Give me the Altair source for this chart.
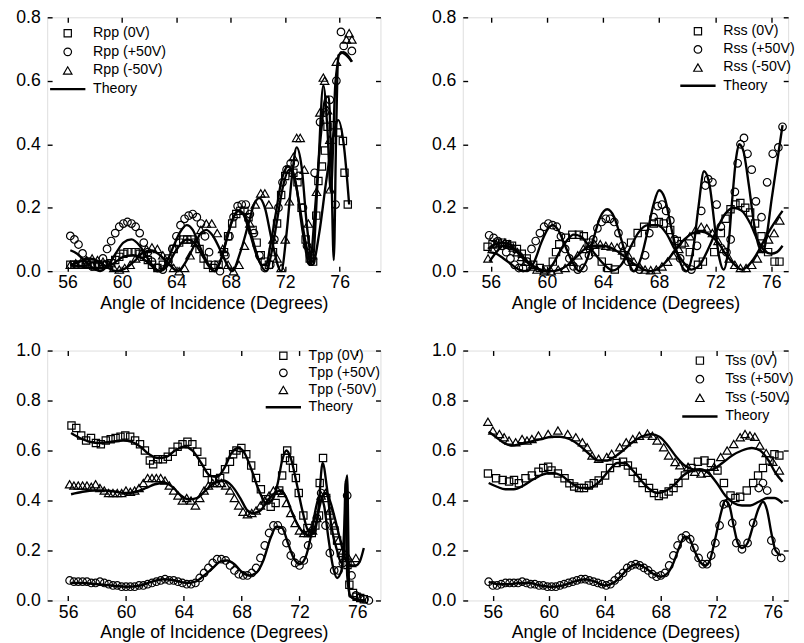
import altair as alt
import pandas as pd

FONT = "Liberation Sans"
XTICKS = [56, 60, 64, 68, 72, 76]

# ---------------- Rpp (top-left) ----------------
rpp_0v = [(56.2,0.02),(56.5,0.02),(56.8,0.02),(57.1,0.02),(57.4,0.02),(57.7,0.02),(58.0,0.015),(58.3,0.015),(58.6,0.02),(58.9,0.02),(59.2,0.025),(59.5,0.035),(59.8,0.045),(60.1,0.055),(60.4,0.06),(60.7,0.06),(61.0,0.06),(61.3,0.055),(61.6,0.045),(61.9,0.035),(62.2,0.02),(62.6,0.01),(63.0,0.02),(63.4,0.04),(63.8,0.07),(64.2,0.09),(64.5,0.10),(64.8,0.10),(65.1,0.10),(65.4,0.09),(65.7,0.07),(66.0,0.04),(66.3,0.02),(66.7,0.01),(67.1,0.02),(67.5,0.06),(67.8,0.11),(68.1,0.15),(68.4,0.18),(68.7,0.19),(69.0,0.19),(69.3,0.17),(69.6,0.13),(69.9,0.09),(70.2,0.05),(70.5,0.03),(70.8,0.02),(71.1,0.06),(71.4,0.15),(71.7,0.24),(72.0,0.30),(72.3,0.32),(72.6,0.31),(72.9,0.28),(73.2,0.20),(73.5,0.10),(73.8,0.04),(74.05,0.03),(74.28,0.175),(74.44,0.284),(74.7,0.33),(74.92,0.38),(75.11,0.455),(75.5,0.46),(75.88,0.437),(76.24,0.41),(76.36,0.31),(76.6,0.21)]
rpp_p50 = [(56.2,0.111),(56.5,0.10),(56.8,0.084),(57.1,0.056),(57.4,0.03),(57.8,0.015),(58.2,0.02),(58.6,0.04),(58.9,0.07),(59.2,0.095),(59.5,0.12),(59.8,0.14),(60.1,0.15),(60.4,0.155),(60.7,0.15),(61.0,0.14),(61.3,0.12),(61.6,0.09),(61.9,0.06),(62.2,0.03),(62.6,0.01),(63.0,0.005),(63.4,0.03),(63.7,0.07),(64.0,0.11),(64.3,0.145),(64.6,0.165),(64.9,0.175),(65.2,0.18),(65.5,0.17),(65.8,0.15),(66.1,0.11),(66.4,0.06),(66.8,0.02),(67.2,0.0),(67.6,0.05),(67.9,0.11),(68.2,0.17),(68.5,0.205),(68.8,0.21),(69.1,0.21),(69.4,0.18),(69.7,0.12),(70.1,0.05),(70.5,0.01),(70.9,0.02),(71.2,0.10),(71.5,0.20),(71.8,0.28),(72.1,0.32),(72.4,0.34),(72.7,0.34),(73.0,0.30),(73.3,0.20),(73.6,0.08),(73.9,0.03),(74.16,0.31),(74.56,0.47),(74.9,0.50),(75.28,0.54),(75.7,0.21),(75.76,0.60),(76.1,0.754),(76.3,0.71),(76.9,0.694)]
rpp_m50 = [(56.2,0.02),(56.6,0.025),(57.0,0.03),(57.4,0.035),(57.8,0.04),(58.2,0.035),(58.6,0.03),(59.0,0.02),(59.4,0.01),(59.8,0.005),(60.2,0.01),(60.6,0.02),(61.0,0.04),(61.4,0.055),(61.8,0.07),(62.2,0.075),(62.6,0.07),(63.0,0.05),(63.4,0.03),(63.8,0.01),(64.2,0.0),(64.6,0.01),(65.0,0.05),(65.4,0.09),(65.8,0.13),(66.2,0.15),(66.6,0.15),(67.0,0.12),(67.4,0.07),(67.8,0.02),(68.2,0.0),(68.6,0.02),(69.0,0.08),(69.4,0.15),(69.8,0.21),(70.2,0.245),(70.5,0.245),(70.8,0.21),(71.1,0.10),(71.4,0.04),(71.7,0.01),(72.0,0.10),(72.3,0.22),(72.6,0.36),(72.84,0.42),(73.1,0.42),(73.4,0.32),(73.7,0.15),(74.0,0.05),(74.3,0.25),(74.55,0.50),(74.8,0.61),(74.9,0.60),(75.11,0.507),(75.28,0.414),(75.3,0.258),(75.76,0.66),(76.5,0.73),(76.7,0.75),(76.9,0.73)]
rpp_th_0v = [(56.2,0.02),(57.0,0.015),(57.8,0.01),(58.6,0.01),(59.4,0.025),(60.1,0.045),(60.8,0.05),(61.5,0.04),(62.1,0.02),(62.7,0.0),(63.3,0.015),(63.9,0.06),(64.4,0.09),(64.8,0.10),(65.3,0.09),(65.9,0.05),(66.4,0.015),(66.8,0.0),(67.3,0.04),(67.8,0.12),(68.2,0.17),(68.5,0.19),(68.9,0.18),(69.4,0.12),(69.9,0.05),(70.3,0.02),(70.6,0.02),(70.9,0.08),(71.3,0.18),(71.7,0.28),(72.2,0.33),(72.6,0.31),(73.0,0.22),(73.5,0.09),(74.0,0.02),(74.5,0.12),(75.0,0.28),(75.5,0.42),(75.9,0.476),(76.3,0.40),(76.7,0.21)]
rpp_th_p50 = [(56.2,0.066),(56.7,0.055),(57.2,0.035),(57.8,0.012),(58.4,0.0),(59.0,0.02),(59.6,0.06),(60.1,0.09),(60.7,0.10),(61.3,0.08),(61.9,0.04),(62.4,0.01),(62.8,0.0),(63.3,0.03),(63.8,0.08),(64.3,0.125),(64.75,0.145),(65.2,0.13),(65.7,0.08),(66.3,0.025),(66.8,0.0),(67.3,0.04),(67.7,0.10),(68.1,0.16),(68.6,0.19),(69.1,0.17),(69.6,0.10),(70.1,0.03),(70.6,0.0),(71.0,0.06),(71.4,0.16),(71.8,0.26),(72.3,0.32),(72.8,0.27),(73.3,0.12),(73.8,0.02),(74.2,0.20),(74.6,0.42),(75.0,0.55),(75.2,0.55),(75.4,0.30),(75.57,0.035),(75.75,0.45),(75.9,0.68),(76.3,0.69),(76.9,0.66)]
rpp_th_m50 = [(56.2,0.02),(56.9,0.03),(57.6,0.04),(58.3,0.03),(59.0,0.01),(59.6,0.0),(60.3,0.01),(61.0,0.035),(61.6,0.06),(62.2,0.065),(62.8,0.05),(63.5,0.02),(64.1,0.0),(64.7,0.03),(65.3,0.08),(65.8,0.12),(66.2,0.13),(66.7,0.11),(67.3,0.06),(68.1,0.0),(68.7,0.06),(69.3,0.15),(69.7,0.21),(70.1,0.23),(70.5,0.20),(71.0,0.10),(71.7,0.0),(72.1,0.12),(72.5,0.30),(72.84,0.39),(73.2,0.33),(73.6,0.14),(74.0,0.03),(74.4,0.30),(74.8,0.585),(75.1,0.45),(75.35,0.25),(75.7,0.60),(76.1,0.69),(76.5,0.68),(76.9,0.66)]

# ---------------- Rss (top-right) ----------------
rss_0v = [(55.77,0.077),(56.12,0.085),(56.47,0.09),(56.81,0.09),(57.16,0.085),(57.51,0.08),(57.86,0.07),(58.21,0.055),(58.56,0.04),(59.02,0.02),(59.49,0.01),(59.95,0.005),(60.42,0.03),(60.65,0.06),(60.88,0.085),(61.35,0.105),(61.81,0.115),(62.28,0.115),(62.63,0.11),(62.98,0.09),(63.44,0.06),(63.91,0.03),(64.37,0.01),(64.84,0.005),(65.53,0.05),(66.0,0.09),(66.47,0.12),(66.93,0.14),(67.63,0.15),(67.98,0.155),(68.33,0.15),(68.79,0.13),(69.26,0.095),(69.6,0.085),(70.19,0.06),(70.77,0.02),(71.12,0.03),(71.93,0.06),(72.4,0.12),(72.74,0.165),(73.09,0.195),(73.44,0.21),(73.79,0.215),(74.14,0.20),(74.49,0.185),(74.84,0.15),(75.3,0.11),(75.77,0.06),(76.23,0.03),(76.58,0.03)]
rss_p50 = [(55.88,0.113),(56.2,0.105),(56.5,0.095),(56.8,0.08),(57.1,0.06),(57.4,0.04),(57.7,0.02),(58.0,0.01),(58.3,0.01),(58.6,0.03),(58.9,0.07),(59.2,0.095),(59.5,0.12),(59.8,0.14),(60.1,0.15),(60.4,0.145),(60.7,0.14),(61.0,0.11),(61.3,0.07),(61.6,0.04),(61.9,0.015),(62.2,0.005),(62.6,0.01),(63.0,0.05),(63.3,0.10),(63.6,0.135),(63.9,0.155),(64.2,0.165),(64.5,0.165),(64.8,0.155),(65.1,0.12),(65.4,0.08),(65.8,0.03),(66.2,0.01),(66.6,0.005),(67.0,0.05),(67.3,0.12),(67.6,0.17),(67.9,0.205),(68.2,0.21),(68.5,0.19),(68.8,0.16),(69.1,0.10),(69.5,0.04),(69.9,0.01),(70.3,0.005),(70.7,0.08),(71.0,0.19),(71.3,0.27),(71.5,0.29),(71.8,0.28),(72.1,0.21),(72.4,0.14),(72.8,0.06),(73.1,0.10),(73.4,0.25),(73.6,0.34),(73.8,0.40),(74.05,0.42),(74.3,0.37),(74.6,0.32),(74.9,0.22),(75.3,0.17),(75.7,0.28),(76.1,0.37),(76.5,0.39),(76.8,0.455)]
rss_m50 = [(55.8,0.04),(56.1,0.07),(56.4,0.085),(56.7,0.09),(57.0,0.09),(57.3,0.085),(57.6,0.075),(57.9,0.06),(58.2,0.045),(58.5,0.03),(58.9,0.015),(59.3,0.005),(59.8,0.0),(60.3,0.0),(60.8,0.005),(61.3,0.01),(61.8,0.03),(62.2,0.05),(62.6,0.07),(63.0,0.08),(63.4,0.085),(63.8,0.085),(64.2,0.08),(64.6,0.078),(65.0,0.075),(65.4,0.065),(65.8,0.05),(66.2,0.03),(66.6,0.015),(67.0,0.005),(67.4,0.003),(67.8,0.005),(68.2,0.015),(68.6,0.03),(69.0,0.05),(69.4,0.07),(69.8,0.09),(70.2,0.11),(70.6,0.13),(71.0,0.14),(71.4,0.135),(71.8,0.12),(72.2,0.095),(72.6,0.07),(73.0,0.04),(73.4,0.02),(73.8,0.01),(74.2,0.01),(74.6,0.02),(75.0,0.04),(75.4,0.07),(75.8,0.10),(76.2,0.12),(76.6,0.16)]
rss_th_0v = [(55.8,0.07),(56.3,0.085),(56.8,0.09),(57.3,0.085),(57.8,0.065),(58.3,0.04),(58.8,0.02),(59.4,0.005),(59.9,0.0),(60.4,0.02),(60.9,0.06),(61.4,0.095),(61.9,0.115),(62.4,0.11),(62.9,0.085),(63.5,0.05),(64.1,0.02),(64.7,0.002),(65.3,0.02),(65.9,0.07),(66.5,0.12),(67.2,0.145),(67.9,0.145),(68.5,0.12),(69.1,0.07),(69.7,0.03),(70.3,0.005),(70.9,0.02),(71.5,0.07),(72.1,0.13),(72.7,0.18),(73.3,0.20),(73.9,0.19),(74.5,0.15),(75.0,0.10),(75.5,0.065),(76.0,0.055),(76.4,0.06),(76.8,0.08)]
rss_th_p50 = [(55.9,0.06),(56.4,0.055),(56.9,0.04),(57.5,0.02),(58.0,0.005),(58.6,0.0),(59.1,0.03),(59.6,0.09),(60.1,0.135),(60.4,0.145),(60.8,0.13),(61.3,0.08),(61.8,0.03),(62.3,0.0),(62.8,0.03),(63.3,0.10),(63.8,0.17),(64.3,0.195),(64.8,0.17),(65.3,0.10),(65.8,0.03),(66.2,0.0),(66.7,0.04),(67.2,0.13),(67.6,0.21),(68.0,0.255),(68.4,0.23),(68.9,0.13),(69.4,0.04),(69.95,0.0),(70.4,0.06),(70.8,0.20),(71.2,0.315),(71.6,0.27),(72.0,0.13),(72.3,0.04),(72.6,0.005),(72.9,0.06),(73.2,0.22),(73.5,0.36),(73.7,0.40),(74.0,0.38),(74.4,0.27),(74.8,0.14),(75.1,0.08),(75.4,0.06),(75.7,0.12),(76.0,0.22),(76.4,0.34),(76.8,0.46)]
rss_th_m50 = [(55.9,0.03),(56.4,0.06),(56.9,0.08),(57.4,0.075),(57.9,0.06),(58.5,0.035),(59.1,0.015),(59.7,0.003),(60.3,0.0),(60.9,0.005),(61.5,0.02),(62.1,0.045),(62.7,0.07),(63.3,0.08),(63.9,0.08),(64.5,0.075),(65.1,0.06),(65.7,0.04),(66.3,0.02),(66.9,0.005),(67.4,0.0),(68.0,0.01),(68.6,0.035),(69.2,0.07),(69.8,0.10),(70.4,0.12),(71.0,0.125),(71.6,0.115),(72.2,0.09),(72.8,0.05),(73.4,0.02),(73.9,0.005),(74.4,0.02),(74.9,0.05),(75.4,0.09),(75.9,0.13),(76.4,0.165),(76.8,0.19)]

# ---------------- Tpp (bottom-left) ----------------
tpp_0v = [(56.23,0.70),(56.56,0.69),(56.9,0.66),(57.24,0.64),(57.58,0.65),(57.92,0.63),(58.26,0.625),(58.6,0.64),(58.94,0.645),(59.28,0.65),(59.62,0.655),(59.95,0.66),(60.29,0.655),(60.63,0.64),(60.97,0.625),(61.31,0.60),(61.65,0.56),(61.88,0.545),(62.21,0.565),(62.55,0.565),(62.89,0.575),(63.23,0.595),(63.57,0.615),(63.91,0.625),(64.25,0.635),(64.59,0.625),(64.93,0.595),(65.27,0.555),(65.6,0.51),(65.94,0.485),(66.17,0.485),(66.51,0.49),(66.85,0.525),(67.19,0.555),(67.41,0.585),(67.64,0.60),(67.98,0.61),(68.32,0.585),(68.66,0.54),(68.99,0.49),(69.33,0.445),(69.67,0.405),(70.01,0.375),(70.35,0.39),(70.6,0.44),(70.8,0.50),(71.0,0.57),(71.15,0.60),(71.35,0.56),(71.55,0.53),(71.75,0.49),(71.95,0.43),(72.27,0.34),(72.55,0.29),(72.85,0.27),(73.1,0.30),(73.35,0.34),(73.4,0.47),(73.63,0.57),(73.85,0.41),(74.08,0.34),(74.42,0.28),(74.6,0.24),(74.87,0.19),(75.32,0.142),(75.45,0.063),(75.7,0.03),(75.95,0.015),(76.2,0.01),(76.45,0.005)]
tpp_p50 = [(56.1,0.08),(56.4,0.075),(56.7,0.075),(57.0,0.075),(57.3,0.075),(57.6,0.07),(57.9,0.07),(58.2,0.075),(58.5,0.07),(58.8,0.065),(59.1,0.06),(59.4,0.06),(59.7,0.055),(60.0,0.055),(60.3,0.055),(60.6,0.055),(60.9,0.06),(61.2,0.06),(61.5,0.065),(61.8,0.07),(62.1,0.075),(62.4,0.08),(62.7,0.085),(63.0,0.08),(63.3,0.08),(63.6,0.075),(63.9,0.07),(64.2,0.065),(64.5,0.065),(64.8,0.07),(65.1,0.09),(65.4,0.11),(65.7,0.13),(66.0,0.15),(66.3,0.165),(66.6,0.165),(66.9,0.16),(67.2,0.14),(67.5,0.12),(67.8,0.105),(68.1,0.10),(68.4,0.10),(68.7,0.11),(69.0,0.13),(69.3,0.17),(69.6,0.22),(69.9,0.27),(70.2,0.30),(70.5,0.30),(70.8,0.28),(71.1,0.23),(71.4,0.18),(71.7,0.15),(72.0,0.14),(72.3,0.16),(72.6,0.22),(72.9,0.28),(73.2,0.33),(73.5,0.43),(73.8,0.30),(74.1,0.19),(74.4,0.12),(74.7,0.12),(75.0,0.15),(75.3,0.42),(75.6,0.10),(75.9,0.02),(76.2,0.01),(76.5,0.005),(76.8,0.0)]
tpp_m50 = [(56.1,0.465),(56.4,0.46),(56.7,0.46),(57.0,0.46),(57.3,0.46),(57.6,0.455),(57.9,0.465),(58.2,0.45),(58.5,0.44),(58.8,0.43),(59.1,0.43),(59.4,0.43),(59.7,0.43),(60.0,0.44),(60.3,0.435),(60.6,0.44),(60.9,0.45),(61.2,0.47),(61.5,0.49),(61.8,0.49),(62.1,0.49),(62.4,0.49),(62.7,0.48),(63.0,0.46),(63.3,0.44),(63.6,0.42),(63.9,0.40),(64.2,0.41),(64.5,0.40),(64.8,0.38),(65.1,0.41),(65.4,0.44),(65.7,0.46),(66.0,0.47),(66.3,0.47),(66.6,0.47),(66.9,0.46),(67.2,0.44),(67.5,0.41),(67.8,0.38),(68.1,0.355),(68.4,0.345),(68.7,0.35),(69.0,0.36),(69.3,0.38),(69.6,0.40),(69.9,0.42),(70.2,0.44),(70.5,0.44),(70.8,0.43),(71.1,0.39),(71.4,0.35),(71.7,0.31),(72.0,0.28),(72.3,0.27),(72.6,0.27),(72.9,0.28),(73.2,0.33),(73.5,0.42),(73.8,0.43),(74.1,0.36),(74.4,0.30),(74.7,0.24),(75.0,0.20),(75.3,0.18),(75.6,0.15),(75.9,0.17)]
tpp_th_0v = [(56.2,0.67),(56.8,0.65),(57.5,0.635),(58.2,0.63),(59.0,0.635),(59.8,0.64),(60.4,0.635),(61.0,0.615),(61.6,0.585),(62.2,0.57),(62.8,0.575),(63.4,0.60),(64.0,0.615),(64.6,0.60),(65.2,0.55),(65.8,0.50),(66.3,0.495),(66.8,0.53),(67.3,0.59),(67.8,0.61),(68.2,0.59),(68.7,0.52),(69.2,0.44),(69.7,0.39),(70.1,0.40),(70.5,0.47),(70.8,0.56),(71.1,0.60),(71.4,0.57),(71.8,0.47),(72.2,0.36),(72.6,0.28),(73.0,0.27),(73.3,0.36),(73.6,0.55),(73.9,0.45),(74.2,0.30),(74.6,0.20),(74.9,0.15),(75.1,0.20),(75.2,0.45),(75.3,0.50),(75.45,0.02),(75.7,0.01),(76.0,0.005),(76.3,0.0),(76.5,0.0)]
tpp_th_p50 = [(56.2,0.07),(57.0,0.07),(58.0,0.065),(59.0,0.06),(60.0,0.055),(61.0,0.06),(61.8,0.075),(62.6,0.085),(63.4,0.08),(64.2,0.07),(64.8,0.075),(65.4,0.10),(66.0,0.13),(66.5,0.155),(67.0,0.16),(67.5,0.145),(68.0,0.115),(68.5,0.10),(69.0,0.11),(69.5,0.16),(70.0,0.25),(70.4,0.295),(70.8,0.29),(71.2,0.23),(71.6,0.17),(72.0,0.145),(72.4,0.17),(72.8,0.26),(73.1,0.36),(73.4,0.42),(73.7,0.38),(74.0,0.25),(74.3,0.14),(74.6,0.09),(74.9,0.12),(75.1,0.30),(75.2,0.48),(75.3,0.10),(75.5,0.02),(75.8,0.005),(76.2,0.0),(76.6,0.0)]
tpp_th_m50 = [(56.2,0.425),(57.0,0.435),(57.8,0.44),(58.5,0.44),(59.3,0.435),(60.0,0.43),(60.7,0.435),(61.4,0.45),(62.0,0.465),(62.7,0.47),(63.3,0.45),(63.8,0.42),(64.3,0.405),(64.9,0.41),(65.5,0.44),(66.1,0.47),(66.7,0.48),(67.3,0.46),(67.9,0.41),(68.4,0.36),(68.8,0.35),(69.3,0.36),(69.8,0.40),(70.3,0.43),(70.7,0.44),(71.1,0.41),(71.5,0.35),(71.9,0.30),(72.3,0.27),(72.7,0.26),(73.1,0.30),(73.5,0.40),(73.8,0.43),(74.1,0.40),(74.4,0.34),(74.7,0.27),(75.0,0.20),(75.3,0.15),(75.6,0.14),(75.9,0.14),(76.2,0.16),(76.45,0.21)]

# ---------------- Tss (bottom-right) ----------------
tss_0v = [(55.65,0.508),(56.23,0.489),(56.7,0.482),(57.16,0.476),(57.51,0.482),(57.86,0.469),(58.33,0.489),(58.79,0.50),(59.26,0.515),(59.6,0.53),(59.95,0.535),(60.19,0.52),(60.65,0.508),(61.12,0.489),(61.47,0.469),(61.81,0.456),(62.16,0.45),(62.51,0.45),(62.86,0.46),(63.21,0.469),(63.56,0.48),(64.02,0.50),(64.37,0.53),(64.84,0.55),(65.3,0.555),(65.65,0.54),(66.0,0.515),(66.35,0.49),(66.7,0.47),(67.16,0.45),(67.51,0.43),(67.86,0.418),(68.21,0.425),(68.56,0.436),(68.91,0.45),(69.26,0.47),(69.72,0.50),(70.19,0.53),(70.65,0.555),(71.12,0.56),(71.58,0.55),(72.05,0.52),(72.51,0.47),(72.98,0.42),(73.33,0.41),(73.67,0.415),(74.14,0.44),(74.6,0.47),(74.95,0.50),(75.3,0.53),(75.77,0.56),(76.12,0.585),(76.47,0.58)]
tss_p50 = [(55.7,0.075),(56.0,0.06),(56.3,0.06),(56.6,0.065),(56.9,0.07),(57.2,0.07),(57.5,0.07),(57.8,0.07),(58.1,0.075),(58.4,0.07),(58.7,0.065),(59.0,0.065),(59.3,0.06),(59.6,0.06),(59.9,0.055),(60.2,0.055),(60.5,0.055),(60.8,0.06),(61.1,0.065),(61.4,0.07),(61.7,0.075),(62.0,0.08),(62.3,0.085),(62.6,0.085),(62.9,0.08),(63.2,0.075),(63.5,0.07),(63.8,0.065),(64.1,0.06),(64.4,0.065),(64.7,0.08),(65.0,0.095),(65.3,0.11),(65.6,0.13),(65.9,0.14),(66.2,0.145),(66.5,0.14),(66.8,0.13),(67.1,0.12),(67.4,0.105),(67.7,0.095),(68.0,0.10),(68.3,0.11),(68.6,0.14),(68.9,0.18),(69.2,0.22),(69.5,0.25),(69.8,0.26),(70.1,0.245),(70.4,0.21),(70.7,0.17),(71.0,0.145),(71.3,0.145),(71.6,0.18),(71.9,0.23),(72.2,0.30),(72.5,0.385),(72.8,0.39),(73.1,0.31),(73.4,0.23),(73.8,0.205),(74.2,0.23),(74.6,0.31),(75.0,0.45),(75.3,0.47),(75.6,0.44),(75.9,0.24),(76.2,0.195),(76.6,0.17)]
tss_m50 = [(55.65,0.715),(56.0,0.68),(56.47,0.666),(56.81,0.653),(57.16,0.64),(57.63,0.633),(58.09,0.646),(58.44,0.64),(58.79,0.646),(59.26,0.66),(59.95,0.666),(60.65,0.68),(61.35,0.666),(61.93,0.653),(62.4,0.633),(62.74,0.613),(63.09,0.58),(63.56,0.567),(64.14,0.574),(64.49,0.587),(65.07,0.613),(65.53,0.633),(66.0,0.646),(66.47,0.659),(67.05,0.668),(67.4,0.659),(67.74,0.64),(68.21,0.613),(68.56,0.58),(69.02,0.554),(69.37,0.541),(69.95,0.535),(70.42,0.515),(70.88,0.508),(71.35,0.511),(71.81,0.535),(72.28,0.574),(72.74,0.60),(73.21,0.626),(73.67,0.653),(74.02,0.666),(74.37,0.66),(74.72,0.655),(75.07,0.62),(75.53,0.59),(76.0,0.555),(76.47,0.52)]
tss_th_0v = [(55.7,0.47),(56.3,0.455),(56.9,0.445),(57.5,0.445),(58.2,0.46),(58.9,0.485),(59.6,0.505),(60.2,0.51),(60.9,0.50),(61.6,0.47),(62.3,0.45),(62.9,0.45),(63.6,0.475),(64.3,0.52),(64.9,0.55),(65.4,0.55),(66.0,0.52),(66.6,0.48),(67.2,0.445),(67.8,0.43),(68.4,0.44),(69.0,0.465),(69.6,0.50),(70.2,0.52),(70.8,0.525),(71.4,0.51),(72.0,0.47),(72.6,0.42),(73.2,0.39),(73.8,0.38),(74.4,0.38),(75.0,0.395),(75.6,0.41),(76.1,0.41),(76.7,0.39)]
tss_th_p50 = [(55.7,0.075),(56.4,0.065),(57.1,0.065),(57.9,0.07),(58.6,0.07),(59.4,0.06),(60.2,0.055),(61.0,0.06),(61.8,0.075),(62.6,0.085),(63.3,0.075),(64.0,0.06),(64.6,0.07),(65.2,0.10),(65.8,0.135),(66.3,0.145),(66.9,0.13),(67.5,0.105),(68.0,0.095),(68.5,0.11),(68.9,0.15),(69.3,0.21),(69.7,0.255),(70.0,0.25),(70.4,0.20),(70.8,0.155),(71.2,0.14),(71.5,0.16),(71.9,0.25),(72.3,0.35),(72.6,0.40),(72.9,0.38),(73.2,0.30),(73.5,0.23),(73.8,0.21),(74.2,0.23),(74.6,0.30),(75.0,0.37),(75.3,0.395),(75.6,0.36),(75.9,0.27),(76.2,0.20),(76.6,0.18)]
tss_th_m50 = [(55.7,0.675),(56.2,0.655),(56.8,0.63),(57.3,0.62),(57.9,0.625),(58.6,0.635),(59.4,0.645),(60.2,0.655),(60.8,0.655),(61.5,0.645),(62.2,0.62),(62.9,0.585),(63.5,0.56),(64.1,0.56),(64.7,0.575),(65.3,0.60),(65.9,0.63),(66.6,0.655),(67.3,0.665),(67.9,0.655),(68.5,0.62),(69.1,0.575),(69.7,0.54),(70.3,0.525),(71.0,0.52),(71.7,0.525),(72.4,0.55),(73.1,0.58),(73.8,0.60),(74.5,0.61),(75.1,0.60),(75.7,0.56),(76.2,0.51),(76.7,0.475)]

THEORY_SYMBOL = "M-4.5,0L4.5,0"


def panel(prefix, sq, ci, tri, th0, thp, thm, xdom, ydom, yticks, width, height, lx, ly, rowpad):
    names = [f"{prefix} (0V)", f"{prefix} (+50V)", f"{prefix} (-50V)", "Theory"]
    rows = []
    for name, pts in zip(names[:3], [sq, ci, tri]):
        for x, y in pts:
            rows.append({"angle": x, "value": y, "series": name})
    pdf = pd.DataFrame(rows)
    lrows = []
    for cid, pts in zip(["a", "b", "c"], [th0, thp, thm]):
        for x, y in pts:
            lrows.append({"angle": x, "value": y, "curve": cid})
    ldf = pd.DataFrame(lrows)

    xs = alt.Scale(domain=xdom, nice=False, zero=False)
    ys = alt.Scale(domain=ydom, nice=False, zero=False)
    tick_common = dict(grid=False, domain=False, offset=-5, tickSize=5, tickWidth=1.4,
                       tickColor="black", zindex=1)
    xax = alt.Axis(orient="bottom", values=XTICKS, title="Angle of Incidence (Degrees)",
                   labelPadding=3, titlePadding=3, labelFontSize=18, titleFontSize=18,
                   labelFont=FONT, titleFont=FONT, titleFontWeight="normal",
                   labelColor="black", titleColor="black", **tick_common)
    yax = alt.Axis(orient="left", values=yticks, format=".1f", title=None,
                   labelPadding=7, labelFontSize=18, labelFont=FONT, labelColor="black",
                   **tick_common)
    xax_top = alt.Axis(orient="top", values=XTICKS, title=None, labels=False, **tick_common)
    yax_right = alt.Axis(orient="right", values=yticks, title=None, labels=False, **tick_common)

    leg = alt.Legend(title=None, orient="none", legendX=lx, legendY=ly,
                     labelFont=FONT, labelFontSize=14.5, labelColor="black",
                     padding=0, rowPadding=rowpad, labelOffset=18.5,
                     symbolStrokeColor="black", symbolOpacity=1)

    lines = alt.Chart(ldf).mark_line(color="black", strokeWidth=2.4, interpolate="monotone").encode(
        x=alt.X("angle:Q", scale=xs, axis=xax),
        y=alt.Y("value:Q", scale=ys, axis=yax),
        detail="curve:N",
    )
    mirror = alt.Chart(ldf).mark_line(opacity=0).encode(
        x=alt.X("angle:Q", scale=xs, axis=xax_top),
        y=alt.Y("value:Q", scale=ys, axis=yax_right),
        detail="curve:N",
    )
    pts = alt.Chart(pdf).mark_point(filled=False, color="black", opacity=1).encode(
        x=alt.X("angle:Q", scale=xs, axis=None),
        y=alt.Y("value:Q", scale=ys, axis=None),
        shape=alt.Shape("series:N", scale=alt.Scale(domain=names, range=["square", "circle", "triangle-up", THEORY_SYMBOL]), legend=leg),
        size=alt.Size("series:N", scale=alt.Scale(type="ordinal", domain=names, range=[55, 60, 75, 64]), legend=leg),
        strokeWidth=alt.StrokeWidth("series:N", scale=alt.Scale(type="ordinal", domain=names, range=[1.2, 1.2, 1.2, 2.5]), legend=leg),
    )
    return (alt.layer(lines, mirror, pts)
            .resolve_axis(x="independent", y="independent")
            .properties(width=width, height=height))


Y08 = [0.0, 0.2, 0.4, 0.6, 0.8]
Y10 = [0.0, 0.2, 0.4, 0.6, 0.8, 1.0]

tl = panel("Rpp", rpp_0v, rpp_p50, rpp_m50, rpp_th_0v, rpp_th_p50, rpp_th_m50,
           [54.5, 79.0], [0, 0.8], Y08, 340, 259, 13.7, 9, 4)
tr = panel("Rss", rss_0v, rss_p50, rss_m50, rss_th_0v, rss_th_p50, rss_th_m50,
           [54.0, 77.2], [0, 0.8], Y08, 332, 259, 232.7, 7, 3.5)
bl = panel("Tpp", tpp_0v, tpp_p50, tpp_m50, tpp_th_0v, tpp_th_p50, tpp_th_m50,
           [54.55, 77.6], [0, 1.0], Y10, 340, 255, 233.7, -2, 2.5)
br = panel("Tss", tss_0v, tss_p50, tss_m50, tss_th_0v, tss_th_p50, tss_th_m50,
           [53.85, 77.1], [0, 1.0], Y10, 332, 255, 234.7, 3, 4)

res = dict(shape="independent", size="independent", strokeWidth="independent")
top = alt.hconcat(tl, tr, spacing=49).resolve_scale(**res)
bottom = alt.hconcat(bl, br, spacing=49).resolve_scale(**res)
chart = alt.vconcat(top, bottom, spacing=28).resolve_scale(**res).properties(
    padding={"left": 7, "top": -7, "right": 0, "bottom": 0}
).configure_view(stroke="black", strokeWidth=1.6).configure(background="white")

chart.save("out.html", embed_options={"renderer": "svg", "actions": False})
